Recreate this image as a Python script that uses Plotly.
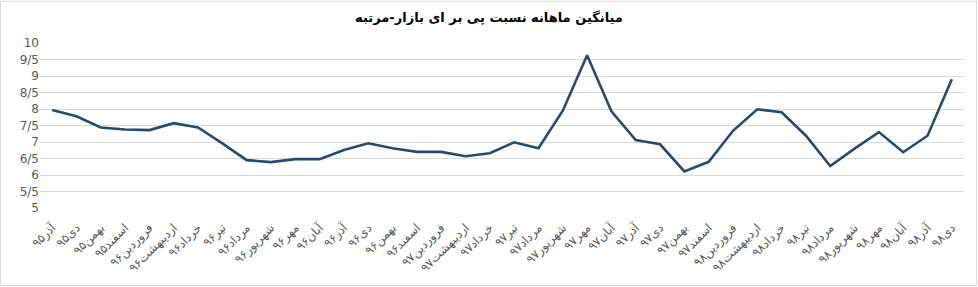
import plotly.graph_objects as go

months = ["آذر۹۵", "دی۹۵", "بهمن۹۵", "اسفند۹۵",
          "فروردین۹۶", "اردیبهشت۹۶", "خرداد۹۶", "تیر۹۶", "مرداد۹۶", "شهریور۹۶",
          "مهر۹۶", "آبان۹۶", "آذر۹۶", "دی۹۶", "بهمن۹۶", "اسفند۹۶",
          "فروردین۹۷", "اردیبهشت۹۷", "خرداد۹۷", "تیر۹۷", "مرداد۹۷", "شهریور۹۷",
          "مهر۹۷", "آبان۹۷", "آذر۹۷", "دی۹۷", "بهمن۹۷", "اسفند۹۷",
          "فروردین۹۸", "اردیبهشت۹۸", "خرداد۹۸", "تیر۹۸", "مرداد۹۸", "شهریور۹۸",
          "مهر۹۸", "آبان۹۸", "آذر۹۸", "دی۹۸"]

pe_values = [7.97, 7.78, 7.44, 7.38, 7.36, 7.57, 7.44, 6.96, 6.45, 6.39,
             6.48, 6.48, 6.76, 6.96, 6.81, 6.70, 6.70, 6.57, 6.66, 6.99,
             6.81, 7.95, 9.63, 7.93, 7.06, 6.93, 6.11, 6.40, 7.34, 7.99,
             7.90, 7.19, 6.27, 6.80, 7.30, 6.69, 7.19, 8.90]

y_tickvals = [5, 5.5, 6, 6.5, 7, 7.5, 8, 8.5, 9, 9.5, 10]
y_ticktext = ["5", "5/5", "6", "6/5", "7", "7/5", "8", "8/5", "9", "9/5", "10"]

title_text = "میانگین ماهانه نسبت پی بر ای بازار-مرتبه"

fig = go.Figure()
fig.add_trace(go.Scatter(
    x=months, y=pe_values, mode="lines",
    line=dict(color="#264b6f", width=2.6),
    hoverinfo="x+y",
))

fig.update_layout(
    width=978, height=287,
    margin=dict(l=40, r=14, t=43, b=79),
    paper_bgcolor="white", plot_bgcolor="white",
    showlegend=False,
    font=dict(family="Tahoma, DejaVu Sans, sans-serif", color="#595959"),
    title=dict(text="<b>" + title_text + "</b>", x=0.5, xanchor="center",
               y=1 - 17 / 287, yanchor="middle",
               font=dict(size=13, color="#000000", family="Tahoma, DejaVu Sans, sans-serif")),
    xaxis=dict(
        type="category", range=[-0.5, len(months) - 0.5],
        tickangle=-45, tickfont=dict(size=12, color="#595959"),
        ticks="outside", ticklen=7, tickcolor="rgba(0,0,0,0)",
        showgrid=False, showline=False, zeroline=False,
        fixedrange=True,
    ),
    yaxis=dict(
        range=[5, 10], tickvals=y_tickvals, ticktext=y_ticktext,
        tickfont=dict(size=12, color="#595959"),
        showgrid=True, gridcolor="#d9d9d9", gridwidth=1,
        showline=False, zeroline=False, ticks="",
        fixedrange=True,
    ),
    shapes=[dict(type="rect", xref="paper", yref="paper",
                 x0=-39.5 / 924, x1=1 + 12.5 / 924, y0=-78 / 166, y1=1 + 42 / 166,
                 line=dict(color="#d9d9d9", width=1), fillcolor="rgba(0,0,0,0)")],
)

fig.write_html("out.html")
